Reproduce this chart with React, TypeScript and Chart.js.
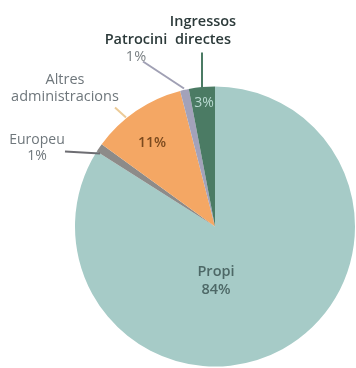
import React, { useEffect, useRef } from "react";
import { Chart, registerables } from "chart.js";

Chart.register(...registerables);

const categories = ["Propi", "Europeu", "Altres administracions", "Patrocini", "Ingressos directes"];
const values = [84, 1, 11, 1, 3];
const percentLabels = ["84%", "1%", "11%", "1%", "3%"];
const colors = ["#a6cbc7", "#8d8b89", "#f4a764", "#a3a2ba", "#4b7b64"];

const FONT = "'Open Sans', 'Noto Sans', sans-serif";

// label styling (offsets relative to pie centre)
type Lbl = { lines: { text: string; color: string; weight: string; dy: number }[]; dx: number; dy: number; size: number; line?: [number, number, number, number, string] };

function buildLabels(): Lbl[] {
  return [
    {
      dx: 1, dy: 45, size: 14.5,
      lines: [
        { text: categories[0], color: "#4d6866", weight: "600", dy: 0 },
        { text: percentLabels[0], color: "#4d6866", weight: "600", dy: 18 },
      ],
    },
    {
      dx: -178, dy: -86, size: 14,
      lines: [
        { text: "Europeu", color: "#6f777c", weight: "400", dy: 0 },
        { text: percentLabels[1], color: "#6f777c", weight: "400", dy: 16 },
      ],
      line: [-150, -75, -115, -73, "#6d6d72"],
    },
    {
      dx: -150, dy: -147, size: 14.5,
      lines: [
        { text: "Altres", color: "#6f777c", weight: "400", dy: 0 },
        { text: "administracions", color: "#6f777c", weight: "400", dy: 17 },
      ],
      line: [-100, -119, -89, -109, "#eccb98"],
    },
    {
      dx: -63, dy: -83, size: 14,
      lines: [{ text: percentLabels[2], color: "#7b4a1e", weight: "600", dy: 0 }],
    },
    {
      dx: -79, dy: -187, size: 14.5,
      lines: [
        { text: "Patrocini", color: "#2c3a3a", weight: "600", dy: 0 },
        { text: percentLabels[3], color: "#7a8084", weight: "400", dy: 17 },
      ],
      line: [-72, -165, -31, -138, "#a0a0b4"],
    },
    {
      dx: -12, dy: -205, size: 14.5,
      lines: [
        { text: "Ingressos", color: "#2c3a3a", weight: "600", dy: 0 },
        { text: "directes", color: "#2c3a3a", weight: "600", dy: 18 },
      ],
      line: [-13, -174, -13, -139, "#4b7b64"],
    },
    {
      dx: -11, dy: -123, size: 14,
      lines: [{ text: percentLabels[4], color: "#b9d9d1", weight: "500", dy: 0 }],
    },
  ];
}

const labelPlugin = {
  id: "pieLabels",
  afterDraw(chart: any) {
    const meta = chart.getDatasetMeta(0);
    const arc = meta.data[0];
    if (!arc) return;
    const cx = arc.x;
    const cy = arc.y;
    const ctx = chart.ctx;
    ctx.save();
    for (const l of buildLabels()) {
      if (l.line) {
        const [x1, y1, x2, y2, c] = l.line;
        ctx.strokeStyle = c;
        ctx.lineWidth = 2;
        ctx.beginPath();
        ctx.moveTo(cx + x1, cy + y1);
        ctx.lineTo(cx + x2, cy + y2);
        ctx.stroke();
      }
      ctx.textAlign = "center";
      ctx.textBaseline = "middle";
      for (const ln of l.lines) {
        ctx.font = `${ln.weight} ${l.size}px ${FONT}`;
        ctx.fillStyle = ln.color;
        ctx.fillText(ln.text, cx + l.dx, cy + l.dy + ln.dy);
      }
    }
    ctx.restore();
  },
};

export default function App() {
  const ref = useRef<HTMLCanvasElement>(null);
  useEffect(() => {
    document.body.style.margin = "0";
    const chart = new Chart(ref.current!, {
      type: "pie",
      data: {
        labels: categories,
        datasets: [
          {
            data: values,
            backgroundColor: colors,
            borderWidth: 0,
          },
        ],
      },
      options: {
        responsive: false,
        animation: false,
        layout: { padding: { left: 75, right: 1, top: 86, bottom: 1 } },
        plugins: {
          legend: { display: false },
          tooltip: { enabled: false },
          title: { display: false },
        },
      },
      plugins: [labelPlugin],
    });
    return () => chart.destroy();
  }, []);
  return (
    <div style={{ width: 356, height: 368, background: "#ffffff" }}>
      <canvas ref={ref} width={356} height={368} />
    </div>
  );
}
